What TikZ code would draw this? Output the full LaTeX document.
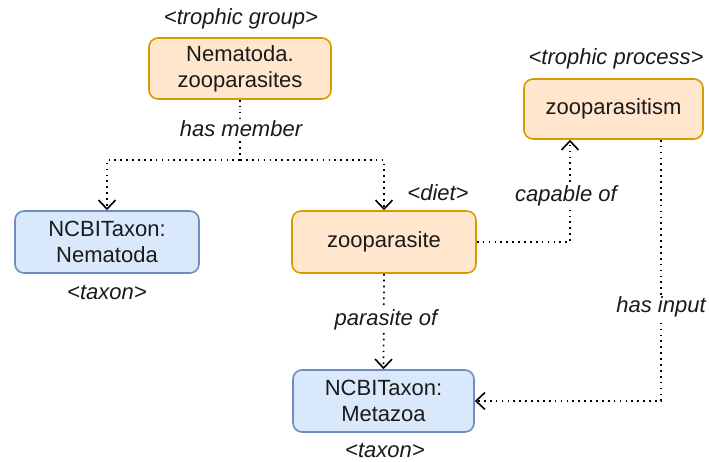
\documentclass[tikz,border=0pt]{standalone}
\usepackage{fontspec}
\setmainfont{Liberation Sans}
\usetikzlibrary{arrows.meta}
\definecolor{orangeline}{HTML}{D79B00}
\definecolor{orangefill}{HTML}{FFE6CC}
\definecolor{blueline}{HTML}{6C8EBF}
\definecolor{bluefill}{HTML}{DAE8FC}
\definecolor{inkgray}{HTML}{1A1A1A}
\begin{document}
\begin{tikzpicture}[x=1pt,y=-1pt,
  every node/.style={font=\fontsize{22}{26}\selectfont, text=inkgray},
  termbox/.style={rounded corners=9pt, line width=1.6pt, align=center,
    inner sep=0pt},
  orangebox/.style={termbox, draw=orangeline, fill=orangefill},
  bluebox/.style={termbox, draw=blueline, fill=bluefill},
  tag/.style={font=\fontsize{22}{26}\selectfont\itshape},
  rel/.style={draw=black, line width=1.7pt, dash pattern=on 1.7pt off 4.2pt,
    -{Straight Barb[length=9pt,width=17pt,line width=1.6pt]}},
  plainrel/.style={draw=black, line width=1.7pt, dash pattern=on 1.7pt off 4.2pt},
  rellabel/.style={tag, fill=white, inner sep=2pt}]
\useasboundingbox (0,0) rectangle (709,461);

% terms
\node[orangebox, minimum width=182pt, minimum height=61pt] (group) at (240,68.5)
  {Nematoda.\\zooparasites};
\node[bluebox, minimum width=184pt, minimum height=62pt] (nema) at (107,242)
  {NCBITaxon:\\Nematoda};
\node[orangebox, minimum width=184pt, minimum height=62pt] (diet) at (384,242)
  {zooparasite};
\node[orangebox, minimum width=179pt, minimum height=60pt] (proc) at (613.5,109)
  {zooparasitism};
\node[bluebox, minimum width=181pt, minimum height=62pt] (meta) at (383.5,401)
  {NCBITaxon:\\Metazoa};

% type tags
\node[tag] (tgroup) at (241,19) {<trophic group>};
\node[tag] (tnema) at (107,292) {<taxon>};
\node[tag] (tdiet) at (438,193) {<diet>};
\node[tag] (tproc) at (616,59) {<trophic process>};
\node[tag] (tmeta) at (385,450) {<taxon>};

% has member
\coordinate (split) at (240,160);
\draw[plainrel] (group.south) -- (split);
\draw[rel] (split) -| (nema.north);
\draw[rel] (split) -| (diet.north);
\node[rellabel] (lmember) at (241,129) {has member};

% capable of
\coordinate (capturn) at (570,242);
\draw[rel] (diet.east) -- (capturn) -- (capturn |- proc.south);
\node[rellabel] (lcapable) at (566,196) {capable of};

% parasite of
\draw[rel] (diet.south) -- (meta.north);
\node[rellabel] (lparasite) at (386,320) {parasite of};

% has input
\coordinate (inturn) at (661,401);
\draw[rel] (inturn |- proc.south) -- (inturn) -- (meta.east);
\node[rellabel] (linput) at (661,307) {has input};
\end{tikzpicture}
\end{document}
